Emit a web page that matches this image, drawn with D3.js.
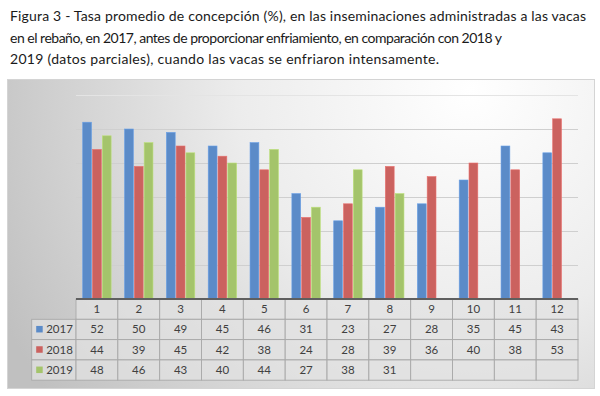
<!DOCTYPE html>
<html>
<head>
<meta charset="utf-8">
<script src="https://cdn.jsdelivr.net/npm/d3@7"></script>
<style>
  body { margin: 0; background: #fff; }
  svg { display: block; }
  text { font-family: Lato, "Liberation Sans", sans-serif; }
</style>
</head>
<body>
<div id="chart"></div>
<script>
// data
const months = ["1", "2", "3", "4", "5", "6", "7", "8", "9", "10", "11", "12"];
const years = ["2017", "2018", "2019"];
const v2017 = [52, 50, 49, 45, 46, 31, 23, 27, 28, 35, 45, 43];
const v2018 = [44, 39, 45, 42, 38, 24, 28, 39, 36, 40, 38, 53];
const v2019 = [48, 46, 43, 40, 44, 27, 38, 31];
const yTicks = [0, 10, 20, 30, 40, 50, 60];
const titleLines = [
  "Figura 3 - Tasa promedio de concepción (%), en las inseminaciones administradas a las vacas",
  "en el rebaño, en 2017, antes de proporcionar enfriamiento, en comparación con 2018 y",
  "2019 (datos parciales), cuando las vacas se enfriaron intensamente."
];

const series = [v2017, v2018, v2019];
const colors = ["#5b8bc8", "#cb625f", "#a4c46b"];

const W = 600, H = 396;
const svg = d3.select("#chart").append("svg")
  .attr("width", W)
  .attr("height", H);

// title
const titleEnds = [586, 502, 439];
svg.append("g")
  .selectAll("text")
  .data(titleLines)
  .enter()
  .append("text")
  .attr("x", 10)
  .attr("y", (d, i) => 21 + i * 21.6)
  .attr("font-size", 14)
  .attr("fill", "#1a1a1a")
  .attr("textLength", (d, i) => titleEnds[i] - 10)
  .attr("lengthAdjust", "spacing")
  .text(d => d);

// chart frame with the office-style gradient
const defs = svg.append("defs");
const grad = defs.append("radialGradient")
  .attr("id", "bg")
  .attr("gradientUnits", "userSpaceOnUse")
  .attr("cx", 470).attr("cy", 90).attr("r", 520);
grad.append("stop").attr("offset", "0%").attr("stop-color", "#ffffff");
grad.append("stop").attr("offset", "45%").attr("stop-color", "#ececec");
grad.append("stop").attr("offset", "100%").attr("stop-color", "#c0c0c0");

svg.append("rect")
  .attr("x", 7.5).attr("y", 79.5)
  .attr("width", 587).attr("height", 309)
  .attr("fill", "url(#bg)")
  .attr("stroke", "#d4d4d4");

const plotLeft = 76, plotRight = 578, plotTop = 95, base = 299;

const x = d3.scaleBand()
  .domain(months)
  .range([plotLeft, plotRight]);

const xs = d3.scaleBand()
  .domain(years)
  .range([6.7, x.bandwidth() - 6.7])
  .paddingInner(0.1);

const y = d3.scaleLinear()
  .domain([0, 60])
  .range([base, plotTop]);

// gridlines
svg.append("g")
  .selectAll("line")
  .data(yTicks.slice(1))
  .enter()
  .append("line")
  .attr("x1", plotLeft).attr("x2", plotRight)
  .attr("y1", d => Math.round(y(d)) + 0.5)
  .attr("y2", d => Math.round(y(d)) + 0.5)
  .attr("stroke", d => d === 60 ? "#e4e4e4" : "#cfcfcf")
  .attr("stroke-width", 1.2);

// bars
years.forEach((yr, si) => {
  svg.append("g")
    .selectAll("rect")
    .data(series[si].map((v, i) => ({ m: months[i], v: v })))
    .enter()
    .append("rect")
    .attr("x", d => x(d.m) + xs(yr))
    .attr("y", d => y(d.v))
    .attr("width", xs.bandwidth())
    .attr("height", d => base - y(d.v))
    .attr("fill", colors[si])
    .attr("stroke", d3.color(colors[si]).brighter(0.4))
    .attr("stroke-width", 0.6);
});

// data table
const rowH = 20.3;
const labelLeft = 31.7;
const table = svg.append("g");

// header row (month numbers)
table.selectAll("rect.h")
  .data(months)
  .enter()
  .append("rect")
  .attr("x", d => x(d))
  .attr("y", base)
  .attr("width", x.bandwidth())
  .attr("height", rowH)
  .attr("fill", "#e2e2e2")
  .attr("fill-opacity", 0.75)
  .attr("stroke", "#a9a9a9")
  .attr("stroke-width", 0.9);

table.selectAll("text.h")
  .data(months)
  .enter()
  .append("text")
  .attr("x", d => x(d) + x.bandwidth() / 2)
  .attr("y", base + rowH / 2 + 4)
  .attr("text-anchor", "middle")
  .attr("font-size", 11.5)
  .attr("fill", "#404040")
  .text(d => d);

years.forEach((yr, si) => {
  const ry = base + rowH * (si + 1);
  const row = table.append("g");
  row.append("rect")
    .attr("x", labelLeft).attr("y", ry)
    .attr("width", plotLeft - labelLeft).attr("height", rowH)
    .attr("fill", "#e2e2e2").attr("fill-opacity", 0.75)
    .attr("stroke", "#a9a9a9").attr("stroke-width", 0.9);
  row.append("rect")
    .attr("x", labelLeft + 4.5).attr("y", ry + rowH / 2 - 3.5)
    .attr("width", 6.5).attr("height", 6.5)
    .attr("fill", colors[si]);
  row.append("text")
    .attr("x", labelLeft + 14.5)
    .attr("y", ry + rowH / 2 + 4)
    .attr("font-size", 11.5)
    .attr("fill", "#404040")
    .text(yr);
  row.selectAll("rect.c")
    .data(months)
    .enter()
    .append("rect")
    .attr("x", d => x(d)).attr("y", ry)
    .attr("width", x.bandwidth()).attr("height", rowH)
    .attr("fill", "#e2e2e2").attr("fill-opacity", 0.75)
    .attr("stroke", "#a9a9a9").attr("stroke-width", 0.9);
  row.selectAll("text.c")
    .data(series[si].map((v, i) => ({ m: months[i], v: v })))
    .enter()
    .append("text")
    .attr("x", d => x(d.m) + x.bandwidth() / 2)
    .attr("y", ry + rowH / 2 + 4)
    .attr("text-anchor", "middle")
    .attr("font-size", 11.5)
    .attr("fill", "#404040")
    .text(d => d.v);
});

// category axis line
svg.append("line")
  .attr("x1", plotLeft).attr("x2", plotRight)
  .attr("y1", base).attr("y2", base)
  .attr("stroke", "#5f5f5f")
  .attr("stroke-width", 2);
</script>
</body>
</html>
